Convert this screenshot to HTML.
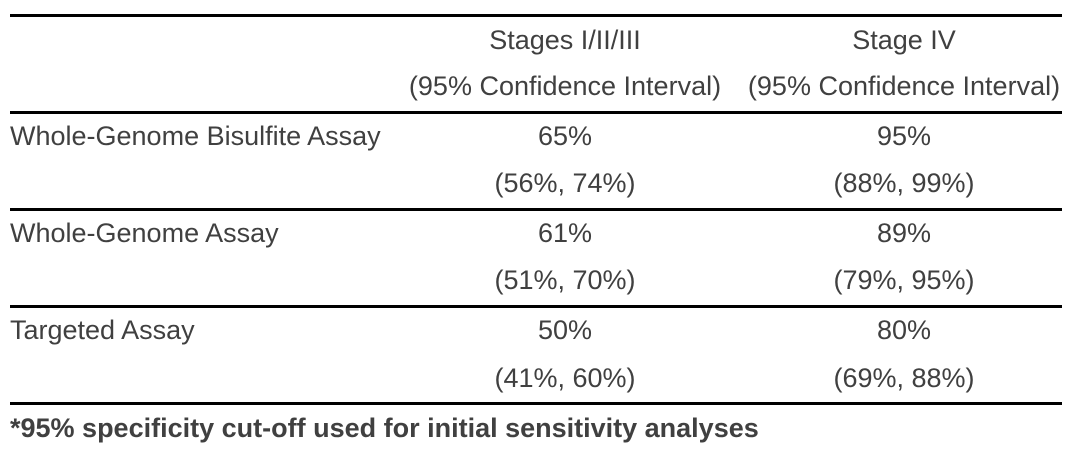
<!DOCTYPE html>
<html><head><style>
body{margin:0;width:1080px;height:453px;background:#fff;position:relative;font-family:"Liberation Sans",Arial,sans-serif;color:#404040;font-size:27px;overflow:hidden}
.l{position:absolute;left:10px;width:1052px;height:3px;background:#000}
.t{position:absolute;white-space:nowrap;line-height:30px}
.c2{left:565px;transform:translateX(-50%)}
.c3{left:904px;transform:translateX(-50%)}
.c1{left:10px}
</style></head><body>
<div class="l" style="top:14px"></div>
<div class="l" style="top:111px"></div>
<div class="l" style="top:208px"></div>
<div class="l" style="top:305px"></div>
<div class="l" style="top:402px"></div>
<div class="t c2" style="top:25px">Stages I/II/III</div>
<div class="t c3" style="top:25px">Stage IV</div>
<div class="t c2" style="top:71px">(95% Confidence Interval)</div>
<div class="t c3" style="top:71px">(95% Confidence Interval)</div>
<div class="t c1" style="top:121px">Whole-Genome Bisulfite Assay</div>
<div class="t c2" style="top:121px">65%</div>
<div class="t c3" style="top:121px">95%</div>
<div class="t c2" style="top:168px">(56%, 74%)</div>
<div class="t c3" style="top:168px">(88%, 99%)</div>
<div class="t c1" style="top:218px">Whole-Genome Assay</div>
<div class="t c2" style="top:218px">61%</div>
<div class="t c3" style="top:218px">89%</div>
<div class="t c2" style="top:265px">(51%, 70%)</div>
<div class="t c3" style="top:265px">(79%, 95%)</div>
<div class="t c1" style="top:315px">Targeted Assay</div>
<div class="t c2" style="top:315px">50%</div>
<div class="t c3" style="top:315px">80%</div>
<div class="t c2" style="top:363px">(41%, 60%)</div>
<div class="t c3" style="top:363px">(69%, 88%)</div>
<div class="t c1" style="top:413px;font-weight:bold">*95% specificity cut-off used for initial sensitivity analyses</div>
</body></html>
